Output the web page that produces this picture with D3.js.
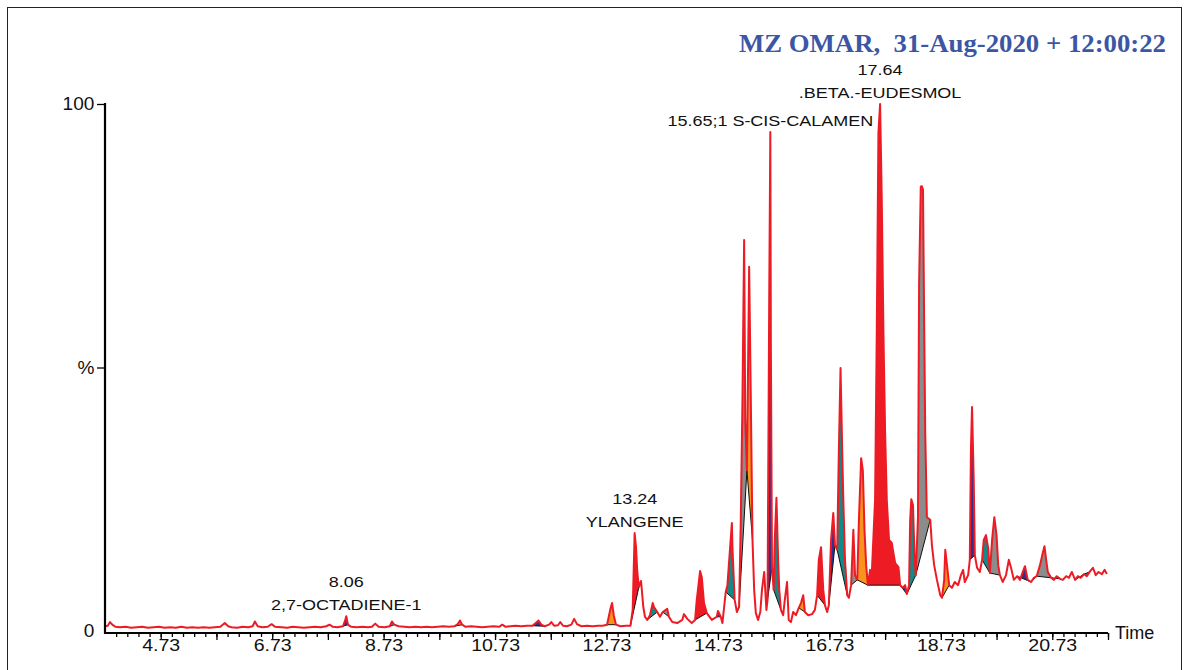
<!DOCTYPE html>
<html><head><meta charset="utf-8">
<script src="https://cdn.jsdelivr.net/npm/d3@7"></script>
<style>body{margin:0;background:#fff}svg{display:block}</style>
</head><body><svg id="c" width="1188" height="670"></svg>
<script>
const title = "MZ OMAR,  31-Aug-2020 + 12:00:22";
const xAxisName = "Time";
const xTickLabels = [4.73, 6.73, 8.73, 10.73, 12.73, 14.73, 16.73, 18.73, 20.73];
const xMidTicks = [5.73, 7.73, 9.73, 11.73, 13.73, 15.73, 17.73, 19.73, 21.73];
const yTicks = [0, 50, 100];
const yTickText = ["0", "%", "100"];

// chromatogram trace: [retention time (min), relative intensity (%)]
const traceEarly = [[3.73,0.9],[3.78,1.0],[3.82,1.7],[3.86,1.2],[3.92,0.8],[4.0,0.7],[4.1,0.8],[4.2,0.6],[4.3,0.7],[4.4,0.8],[4.5,0.6],[4.6,0.7],[4.7,0.8],[4.8,0.6],[4.9,0.7],[5.0,0.6],[5.1,0.8],[5.2,0.6],[5.3,0.7],[5.4,0.6],[5.5,0.7],[5.6,0.6],[5.7,0.7],[5.8,0.8],[5.88,1.5],[5.94,0.9],[6.0,0.7],[6.1,0.6],[6.2,0.8],[6.3,0.7],[6.38,0.9],[6.42,1.8],[6.47,0.9],[6.55,0.7],[6.65,0.8],[6.72,1.3],[6.78,0.8],[6.9,0.7],[7.0,0.6],[7.1,0.8],[7.2,0.7],[7.3,0.6],[7.4,0.7],[7.5,0.8],[7.6,0.7],[7.7,0.9],[7.76,1.2],[7.82,0.8],[7.9,0.7],[8.0,0.9],[8.04,2.0],[8.06,2.8],[8.09,1.2],[8.15,0.8],[8.25,0.7],[8.35,0.8],[8.45,0.7],[8.52,0.8],[8.58,1.4],[8.64,0.8],[8.75,0.7],[8.84,0.9],[8.88,1.8],[8.92,1.2],[9.0,0.9],[9.1,0.8],[9.2,0.7],[9.3,0.8],[9.4,0.7],[9.5,0.8],[9.6,0.7],[9.7,0.8],[9.8,0.9],[9.9,0.8],[10.0,0.9],[10.06,1.3],[10.1,2.0],[10.14,1.2],[10.2,0.8],[10.3,0.9],[10.4,0.8],[10.5,0.7],[10.6,0.8],[10.7,0.9],[10.8,0.8],[10.86,1.2],[10.92,0.8],[11.0,0.9],[11.1,1.0],[11.2,0.9],[11.3,1.0],[11.4,1.0],[11.47,1.6],[11.51,2.0],[11.56,1.2],[11.62,0.9],[11.7,1.2],[11.74,1.7],[11.79,1.0],[11.86,1.1],[11.9,1.7],[11.95,1.0],[12.02,0.9],[12.1,1.2],[12.15,2.3],[12.2,1.3],[12.28,0.9],[12.38,1.0],[12.48,0.9],[12.58,1.0],[12.66,1.0],[12.74,1.2],[12.8,4.2],[12.83,5.3],[12.86,3.0],[12.9,1.2],[12.98,0.9],[13.08,1.0],[13.16,1.0]];
const traceMid = [[13.2,4.0],[13.235,18.6],[13.26,15.9],[13.28,11.6],[13.31,8.3],[13.35,9.5],[13.39,4.6],[13.42,2.7],[13.46,2.1],[13.51,3.0],[13.56,5.3],[13.58,4.6],[13.64,3.6],[13.69,2.7],[13.74,3.6],[13.82,4.2],[13.85,2.7],[13.91,1.7],[14.0,1.5],[14.09,2.1],[14.12,3.2],[14.18,2.3],[14.26,1.5],[14.32,2.1],[14.35,5.9],[14.41,11.4],[14.44,10.2],[14.48,5.3],[14.53,3.4],[14.62,2.1],[14.71,2.7],[14.73,3.8],[14.78,2.7],[14.81,1.5],[14.87,7.4],[14.9,8.7],[14.98,20.5],[14.99,15.9],[15.03,5.9],[15.07,3.6],[15.11,4.6],[15.14,21.1],[15.17,43.8],[15.2,74.2],[15.22,40.0],[15.25,30.5],[15.29,69.1],[15.32,43.8],[15.35,17.3],[15.38,7.8],[15.41,3.4],[15.45,2.1],[15.49,3.6],[15.52,7.8],[15.56,11.2],[15.6,4.0],[15.62,5.9],[15.65,62.8],[15.67,94.7],[15.68,53.3],[15.7,12.1],[15.73,7.8],[15.75,17.3],[15.78,25.3],[15.81,13.5],[15.83,7.8],[15.86,4.0],[15.9,3.0],[15.93,5.9],[15.97,9.3],[16.0,2.1],[16.04,1.7],[16.08,3.6],[16.13,3.0],[16.18,4.4],[16.22,5.3],[16.26,6.8],[16.29,3.6],[16.35,3.0],[16.42,3.2],[16.47,4.0],[16.51,6.8],[16.54,13.5],[16.58,15.9],[16.62,7.8],[16.65,4.9],[16.69,3.6],[16.72,4.9],[16.76,17.3],[16.8,22.4],[16.83,16.3],[16.87,15.4],[16.9,34.3],[16.93,49.9],[16.96,34.3],[16.98,24.9]];
const traceLate = [[17.01,13.5],[17.05,6.8],[17.08,6.3],[17.12,8.7],[17.16,19.2],[17.19,10.6],[17.23,9.7],[17.26,21.1],[17.3,32.8],[17.33,30.5],[17.36,19.2],[17.39,12.5],[17.42,8.7],[17.46,11.6],[17.49,10.6],[17.51,15.4],[17.55,24.9],[17.58,56.5],[17.61,94.5],[17.64,100],[17.67,81.8],[17.7,56.5],[17.73,37.6],[17.76,24.9],[17.8,17.3],[17.85,16.7],[17.87,15.4],[17.91,12.9],[17.97,12.1],[18.0,8.7],[18.05,8.2],[18.09,8.7],[18.12,7.0],[18.16,8.7],[18.18,21.1],[18.2,25.0],[18.23,23.9],[18.26,13.5],[18.28,10.6],[18.32,21.6],[18.34,66.0],[18.37,84.3],[18.39,84.4],[18.41,83.7],[18.43,59.6],[18.45,37.6],[18.48,21.6],[18.54,21.1],[18.57,16.3],[18.61,12.5],[18.66,9.7],[18.72,6.8],[18.75,6.3],[18.79,9.7],[18.81,15.4],[18.84,12.5],[18.88,8.7],[18.93,8.2],[18.98,9.3],[19.04,8.7],[19.09,10.6],[19.13,11.6],[19.16,9.3],[19.22,10.6],[19.25,13.5],[19.27,34.3],[19.29,42.5],[19.32,28.7],[19.34,14.4],[19.38,12.0],[19.43,11.2],[19.47,13.5],[19.5,17.3],[19.54,18.2],[19.58,15.7],[19.61,11.0],[19.65,17.3],[19.69,21.6],[19.73,18.2],[19.76,12.5],[19.79,10.6],[19.84,9.3],[19.9,10.6],[19.95,13.5],[19.99,12.0],[20.04,9.7],[20.1,10.4],[20.15,9.7],[20.2,11.2],[20.24,12.3],[20.29,9.7],[20.35,9.3],[20.4,10.1],[20.45,10.4],[20.51,12.5],[20.55,14.4],[20.59,16.1],[20.62,13.5],[20.65,11.2],[20.71,10.1],[20.76,9.7],[20.81,10.4],[20.87,9.9],[20.92,9.7],[20.98,10.4],[21.03,10.1],[21.08,11.2],[21.14,9.7],[21.19,10.4],[21.24,10.1],[21.3,10.8],[21.35,10.4],[21.4,11.2],[21.46,12.0],[21.51,10.6],[21.56,11.2],[21.62,10.8],[21.67,11.6],[21.71,10.8]];

// integrated peaks: [start, end, fill]
const peaks = [[8.0,8.09,"navy"],[8.84,8.92,"grey"],[10.0,10.14,"orange"],[11.4,11.62,"navy"],[12.74,12.9,"orange"],[13.16,13.31,"red"],[13.46,13.64,"teal"],[13.74,13.85,"grey"],[14.32,14.53,"red"],[14.69,14.78,"navy"],[14.87,15.03,"teal"],[15.11,15.25,"grey"],[15.25,15.35,"orange"],[15.62,15.7,"navy"],[15.73,15.86,"teal"],[16.18,16.29,"orange"],[16.51,16.65,"red"],[16.72,16.83,"navy"],[16.87,17.05,"teal"],[17.12,17.23,"grey"],[17.23,17.42,"orange"],[17.42,18.0,"red"],[18.0,18.12,"navy"],[18.12,18.28,"teal"],[18.28,18.54,"grey"],[18.75,18.88,"orange"],[19.25,19.34,"navy"],[19.47,19.61,"teal"],[19.61,19.79,"grey"],[20.1,20.35,"navy"],[20.35,20.45,"teal"],[20.45,20.71,"grey"],[20.71,20.87,"orange"],[21.14,21.3,"navy"],[21.3,21.4,"teal"]];
const peakColors = {red:"#ed1c24", navy:"#2e3192", teal:"#138a88", grey:"#8c8c8c", orange:"#f7941d"};

const peakLabels = [
  {t:8.06, v:2.8, lines:["8.06","2,7-OCTADIENE-1"]},
  {t:13.235, v:18.6, lines:["13.24","YLANGENE"]},
  {t:15.67, v:94.7, lines:["15.65;1 S-CIS-CALAMEN"]},
  {t:17.64, v:100, lines:["17.64",".BETA.-EUDESMOL"]}
];

const svg = d3.select("#c");
const x = d3.scaleLinear().domain([3.73, 21.73]).range([105, 1108]);
const y = d3.scaleLinear().domain([0, 100]).range([631, 104]);
const trace = traceEarly.concat(traceMid, traceLate);
const sansFont = "'Liberation Sans', Arial, sans-serif";

// outer frame
svg.append("rect").attr("x",7.5).attr("y",7.5).attr("width",1174).attr("height",700)
  .attr("fill","none").attr("stroke","#222").attr("stroke-width",1);

// peak fills
const gFill = svg.append("g");
const gBase = svg.append("g");
peaks.forEach(([s,e,c]) => {
  const pts = trace.filter(d => d[0] >= s - 1e-9 && d[0] <= e + 1e-9);
  if (pts.length < 2) return;
  const a = pts[0], b = pts[pts.length-1];
  const base = t => a[1] + (b[1]-a[1]) * (t - a[0]) / (b[0] - a[0]);
  const area = d3.area().x(d => x(d[0])).y1(d => y(d[1])).y0(d => y(base(d[0])));
  gFill.append("path").datum(pts).attr("d", area).attr("fill", peakColors[c]).attr("stroke","none");
  gBase.append("line").attr("x1",x(a[0])).attr("y1",y(a[1])).attr("x2",x(b[0])).attr("y2",y(b[1]))
    .attr("stroke","#111").attr("stroke-width",1);
});

// trace line
svg.append("path").datum(trace)
  .attr("d", d3.line().x(d => x(d[0])).y(d => y(d[1])))
  .attr("fill","none").attr("stroke","#ed1c24").attr("stroke-width",2).attr("stroke-linejoin","round");

// axes lines
svg.append("line").attr("x1",x(3.73)).attr("x2",x(21.73)).attr("y1",y(0)+2).attr("y2",y(0)+2)
  .attr("stroke","#000").attr("stroke-width",2.2);
svg.append("line").attr("x1",x(3.73)).attr("x2",x(3.73)).attr("y1",y(100)-1).attr("y2",y(0)+3)
  .attr("stroke","#000").attr("stroke-width",2.2);

// x ticks
const ax = svg.append("g").attr("transform",`translate(0,${y(0)+2})`);
ax.append("g").call(d3.axisBottom(x).tickValues(d3.range(3.93, 21.74, 0.2)).tickSize(4).tickFormat(""))
  .call(g => g.select(".domain").remove());
ax.append("g").call(d3.axisBottom(x).tickValues(xMidTicks).tickSize(7).tickFormat(""))
  .call(g => g.select(".domain").remove());
const axL = ax.append("g").call(d3.axisBottom(x).tickValues(xTickLabels).tickSize(7).tickFormat(d3.format(".2f")))
  .call(g => g.select(".domain").remove());
ax.selectAll("line").attr("stroke","#000").attr("stroke-width",1.3);
axL.selectAll("text").attr("y",6).attr("font-family",sansFont).attr("font-size",17)
  .attr("fill","#111").attr("transform","scale(1.15,1)");

// y ticks
const ay = svg.append("g").attr("transform",`translate(${x(3.73)},0)`)
  .call(d3.axisLeft(y).tickValues(yTicks).tickSize(8).tickFormat((d,i) => yTickText[i]))
  .call(g => g.select(".domain").remove());
ay.selectAll("line").attr("stroke","#000").attr("stroke-width",1.3);
ay.selectAll(".tick").filter(d => d === 0).select("line").remove();
ay.selectAll("text").attr("font-family",sansFont).attr("font-size",18).attr("fill","#111")
  .attr("x",-10).attr("transform","scale(1.06,1)");

// x axis name
svg.append("text").attr("x",x(21.73)+7).attr("y",y(0)+8).attr("font-family",sansFont)
  .attr("font-size",18).attr("fill","#111").text(xAxisName);

// peak labels
peakLabels.forEach(p => {
  const n = p.lines.length;
  p.lines.forEach((txt,i) => {
    const by = y(p.v) - 6 - (n-1-i) * 23;
    svg.append("text").attr("transform",`translate(${x(p.t)},${by}) scale(1.2,1)`)
      .attr("text-anchor","middle").attr("font-family",sansFont).attr("font-size",15)
      .attr("fill","#111").text(txt);
  });
});

// title
svg.append("text").attr("transform","translate(1166,52) scale(1.03,1)")
  .attr("text-anchor","end").attr("font-family","'Liberation Serif','Times New Roman',serif")
  .attr("font-weight","bold").attr("font-size",26).attr("fill","#3b56a5")
  .style("white-space","pre").text(title);
</script></body></html>
